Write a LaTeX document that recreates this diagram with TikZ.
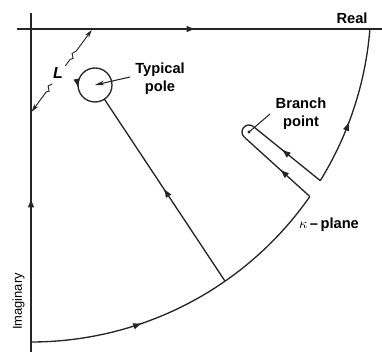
\documentclass[tikz,border=0pt]{standalone}
\usepackage{fontspec}
\setmainfont{Liberation Sans}
\usetikzlibrary{arrows.meta,decorations.markings,calc}

\tikzset{
  contour/.style={line width=1pt, draw=black!85},
  midarrow/.style={postaction={decorate, decoration={markings,
      mark=at position #1 with {\arrow[black!85]{Latex[length=7pt,width=5pt]}}}}},
  lbl/.style={font=\fontsize{11}{13.5}\selectfont\bfseries, inner sep=0pt},
  leader/.style={line width=0.8pt, draw=black!85},
}

\begin{document}
\begin{tikzpicture}[x=0.75pt, y=0.75pt]
    \useasboundingbox (0,0) rectangle (382,356);
    \coordinate (O) at (31,327);
    \coordinate (C) at (31,354);  % центр дуги
    \coordinate (P) at (95,271);  % полюс
    \coordinate (B) at (249,224); % точка ветвления

    % Оси
    \coordinate (ybot) at (31,4);
    \coordinate (ytop) at (31,343);
    \coordinate (xl) at (17,327);
    \coordinate (xr) at (382,327);
    \draw[contour, midarrow=0.454] (ybot) -- (ytop);
    \draw[contour, midarrow=0.49] (xl) -- (xr);

    % Дуга
    \coordinate (A0) at ($(C)+(-90:340)$);
    \coordinate (A3) at ($(C)+(-31.7:340)$);
    \draw[contour, midarrow=0.55] (A0) arc[start angle=-90, end angle=-55.2, radius=340] coordinate (A1);
    \draw[contour] (A1) arc[start angle=-55.2, end angle=-34.9, radius=340] coordinate (A2);
    \draw[contour, midarrow=0.41] (A3) arc[start angle=-31.7, end angle=-4.55, radius=340] coordinate (A4);

    % Обход полюса
    \coordinate (Q) at ($(P)+(-56.5:17)$);
    \coordinate (Pr) at ($(P)+(17,0)$);
    \draw[contour, midarrow=0.51] (A1) -- (Q);
    \draw[contour, midarrow=0.53] (Pr) arc[start angle=0, end angle=360, radius=17];
    \coordinate (pl) at (130,279);
    \draw[leader, {Stealth[length=7pt,width=3.5pt]}-] (P) -- (pl);
    \node[lbl, align=center] (pole) at (160,277) {Typical\\pole};

    % Разрез
    \coordinate (B1) at ($(B)+(231:7)$);
    \coordinate (B2) at ($(B)+(51:7)$);
    \draw[contour, midarrow=0.46] (A2) -- (B1);
    \draw[contour] (B1) arc[start angle=231, end angle=51, radius=7];
    \draw[contour, midarrow=0.58] (A3) -- (B2);
    \fill[black!85] (B) circle[radius=1.6];
    \coordinate (bl) at (270,242);
    \draw[leader] (B) -- (bl);
    \node[lbl, align=center] (branch) at (301,242) {Branch\\point};

    % Расстояние L
    \coordinate (Lb) at (31.7,244.3);
    \coordinate (Lt) at (91.7,326);
    \draw[leader, line width=0.7pt, {Stealth[length=6pt,width=3.5pt]}-]
        (Lb) -- ($(Lb)!0.24!(Lt)$) -- ++(3,1) -- ++(-1,5) -- ($(Lb)!0.34!(Lt)$);
    \draw[leader, line width=0.7pt, -{Stealth[length=6pt,width=3.5pt]}]
        ($(Lb)!0.56!(Lt)$) -- ($(Lb)!0.64!(Lt)$) -- ++(3,1) -- ++(-1,5)
        -- ($(Lb)!0.74!(Lt)$) -- (Lt);
    \node[lbl, font=\fontsize{12}{12}\selectfont\bfseries\itshape] (Llab) at (58,283) {L};

    % Подписи
    \node[lbl] (real) at (352,338) {Real};
    \node[lbl] (kappa) at (329,131) {$\kappa$\,–\,plane};
    \node[lbl, font=\fontsize{9.7}{10}\selectfont, rotate=90] (imag) at (18.5,54.5) {Imaginary};
\end{tikzpicture}
\end{document}
